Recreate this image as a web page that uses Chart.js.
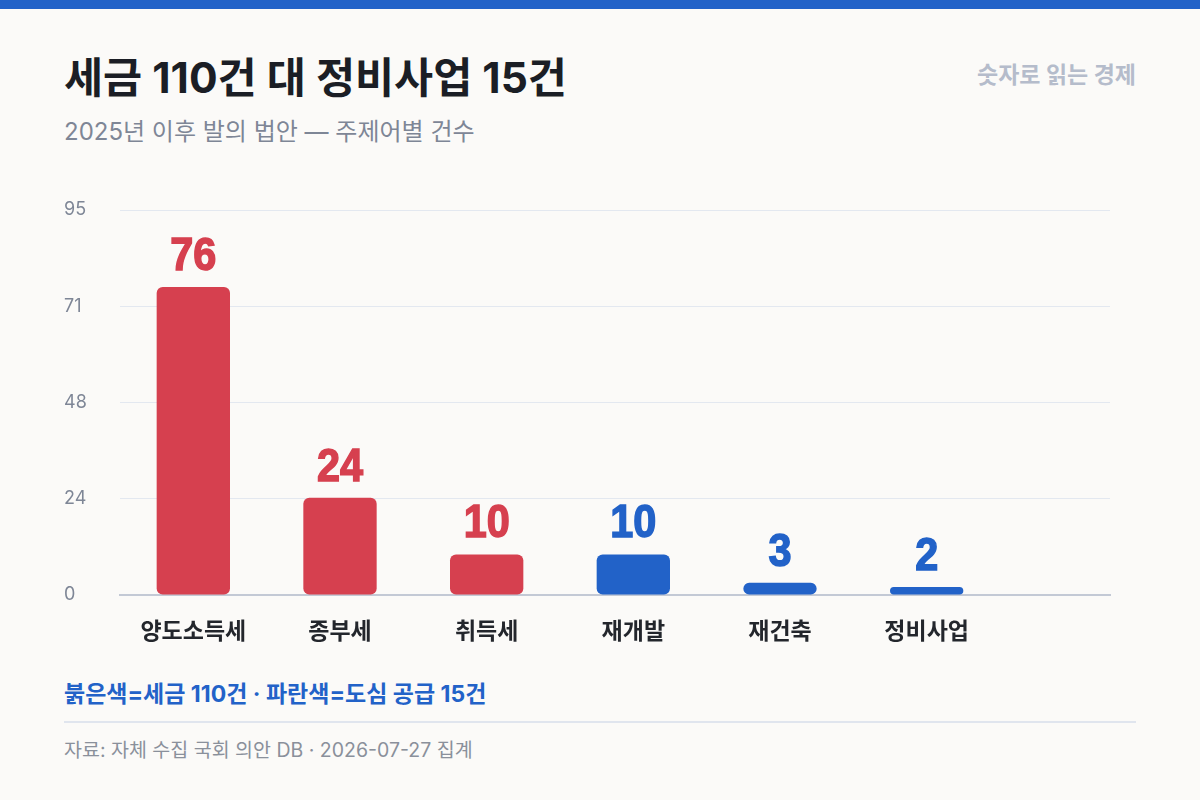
<!DOCTYPE html>
<html lang="ko">
<head>
<meta charset="utf-8">
<script src="https://cdn.jsdelivr.net/npm/chart.js@4/dist/chart.umd.min.js"></script>
<style>
  html, body { margin: 0; padding: 0; }
  body {
    width: 1200px; height: 800px; position: relative; overflow: hidden;
    background: #fbfaf8;
    font-family: Inter, "Noto Sans CJK KR", sans-serif;
  }
  .topbar { position: absolute; left: 0; top: 0; width: 1200px; height: 9px; background: #2262c8; }
  .title { position: absolute; left: 64px; top: 52px; font-size: 42.5px; font-weight: 700; color: #1b1e25; line-height: 1.2; }
  .sub { position: absolute; left: 64px; top: 118px; font-size: 24px; color: #7e8696; line-height: 1.2; }
  .brand { position: absolute; right: 64px; top: 62px; font-size: 23px; font-weight: 700; color: #b5bccb; line-height: 1.2; }
  .wrap { position: absolute; left: 64px; top: 180px; width: 1072px; height: 480px; }
  .note { position: absolute; left: 64px; top: 681px; font-size: 23px; font-weight: 700; color: #2262c8; line-height: 1.2; }
  .rule { position: absolute; left: 64px; top: 721px; width: 1072px; height: 2px; background: #e0e5ee; }
  .src { position: absolute; left: 64px; top: 739px; font-size: 19.5px; color: #8a909b; line-height: 1.2; }
</style>
</head>
<body>
<div class="topbar"></div>
<div class="title">세금 110건 대 정비사업 15건</div>
<div class="sub">2025년 이후 발의 법안 — 주제어별 건수</div>
<div class="brand">숫자로 읽는 경제</div>
<div class="wrap"><canvas id="myChart"></canvas></div>
<div class="note">붉은색=세금 110건 · 파란색=도심 공급 15건</div>
<div class="rule"></div>
<div class="src">자료: 자체 수집 국회 의안 DB · 2026-07-27 집계</div>

<script>
const labels = ['양도소득세', '종부세', '취득세', '재개발', '재건축', '정비사업'];
const counts = [76, 24, 10, 10, 3, 2];
const groups = ['tax', 'tax', 'tax', 'supply', 'supply', 'supply'];
const yTicks = [0, 23.75, 47.5, 71.25, 95];

const RED = '#d6404f';
const BLUE = '#2262c8';
const colors = groups.map((g) => g === 'tax' ? RED : BLUE);

// numbers above each bar, squeezed a bit to look condensed
const valueLabels = {
    id: 'valueLabels',
    afterDatasetsDraw(chart) {
        const ctx = chart.ctx;
        const meta = chart.getDatasetMeta(0);
        meta.data.forEach((bar, i) => {
            ctx.save();
            ctx.translate(bar.x, bar.y - 17);
            ctx.scale(0.9, 1);
            ctx.font = 'bold 46px "Liberation Sans", sans-serif';
            ctx.textAlign = 'center';
            ctx.textBaseline = 'alphabetic';
            ctx.fillStyle = colors[i];
            ctx.strokeStyle = colors[i];
            ctx.lineWidth = 1.5;
            ctx.fillText(String(counts[i]), 0, 0);
            ctx.strokeText(String(counts[i]), 0, 0);
            ctx.restore();
        });
    }
};

const ctx = document.getElementById('myChart').getContext('2d');
const myChart = new Chart(ctx, {
    type: 'bar',
    data: {
        datasets: [{
            data: counts.map((v, i) => ({ x: i, y: v })),
            backgroundColor: colors,
            borderRadius: 6,
            borderSkipped: false,
            barPercentage: 0.5,
            categoryPercentage: 1
        }]
    },
    options: {
        responsive: true,
        maintainAspectRatio: false,
        animation: false,
        layout: { padding: { top: 30, right: 26, bottom: 0, left: 0 } },
        plugins: {
            legend: { display: false },
            tooltip: { enabled: false }
        },
        scales: {
            x: {
                type: 'linear',
                min: -0.5,
                max: 6.25,
                offset: false,
                afterBuildTicks: (axis) => { axis.ticks = labels.map((_, i) => ({ value: i })); },
                afterFit: (axis) => { axis.height = 65; },
                grid: { display: false, drawTicks: false },
                border: { display: true, color: '#c3c9d5', width: 2 },
                ticks: {
                    padding: 21,
                    color: '#23262c',
                    font: { family: '"Noto Sans CJK KR", sans-serif', size: 23, weight: '600' },
                    callback: (v) => labels[v] ?? ''
                }
            },
            y: {
                min: 0,
                max: 95,
                afterBuildTicks: (axis) => { axis.ticks = yTicks.map((v) => ({ value: v })); },
                afterFit: (axis) => { axis.width = 56; },
                grid: { color: '#e3e8f0', lineWidth: 1, drawTicks: false },
                border: { display: false },
                ticks: {
                    crossAlign: 'far',
                    padding: 8,
                    color: '#7e8696',
                    font: { family: 'Inter, "Noto Sans", sans-serif', size: 18 },
                    callback: (v) => Math.round(v)
                }
            }
        }
    },
    plugins: [valueLabels]
});
</script>
</body>
</html>
